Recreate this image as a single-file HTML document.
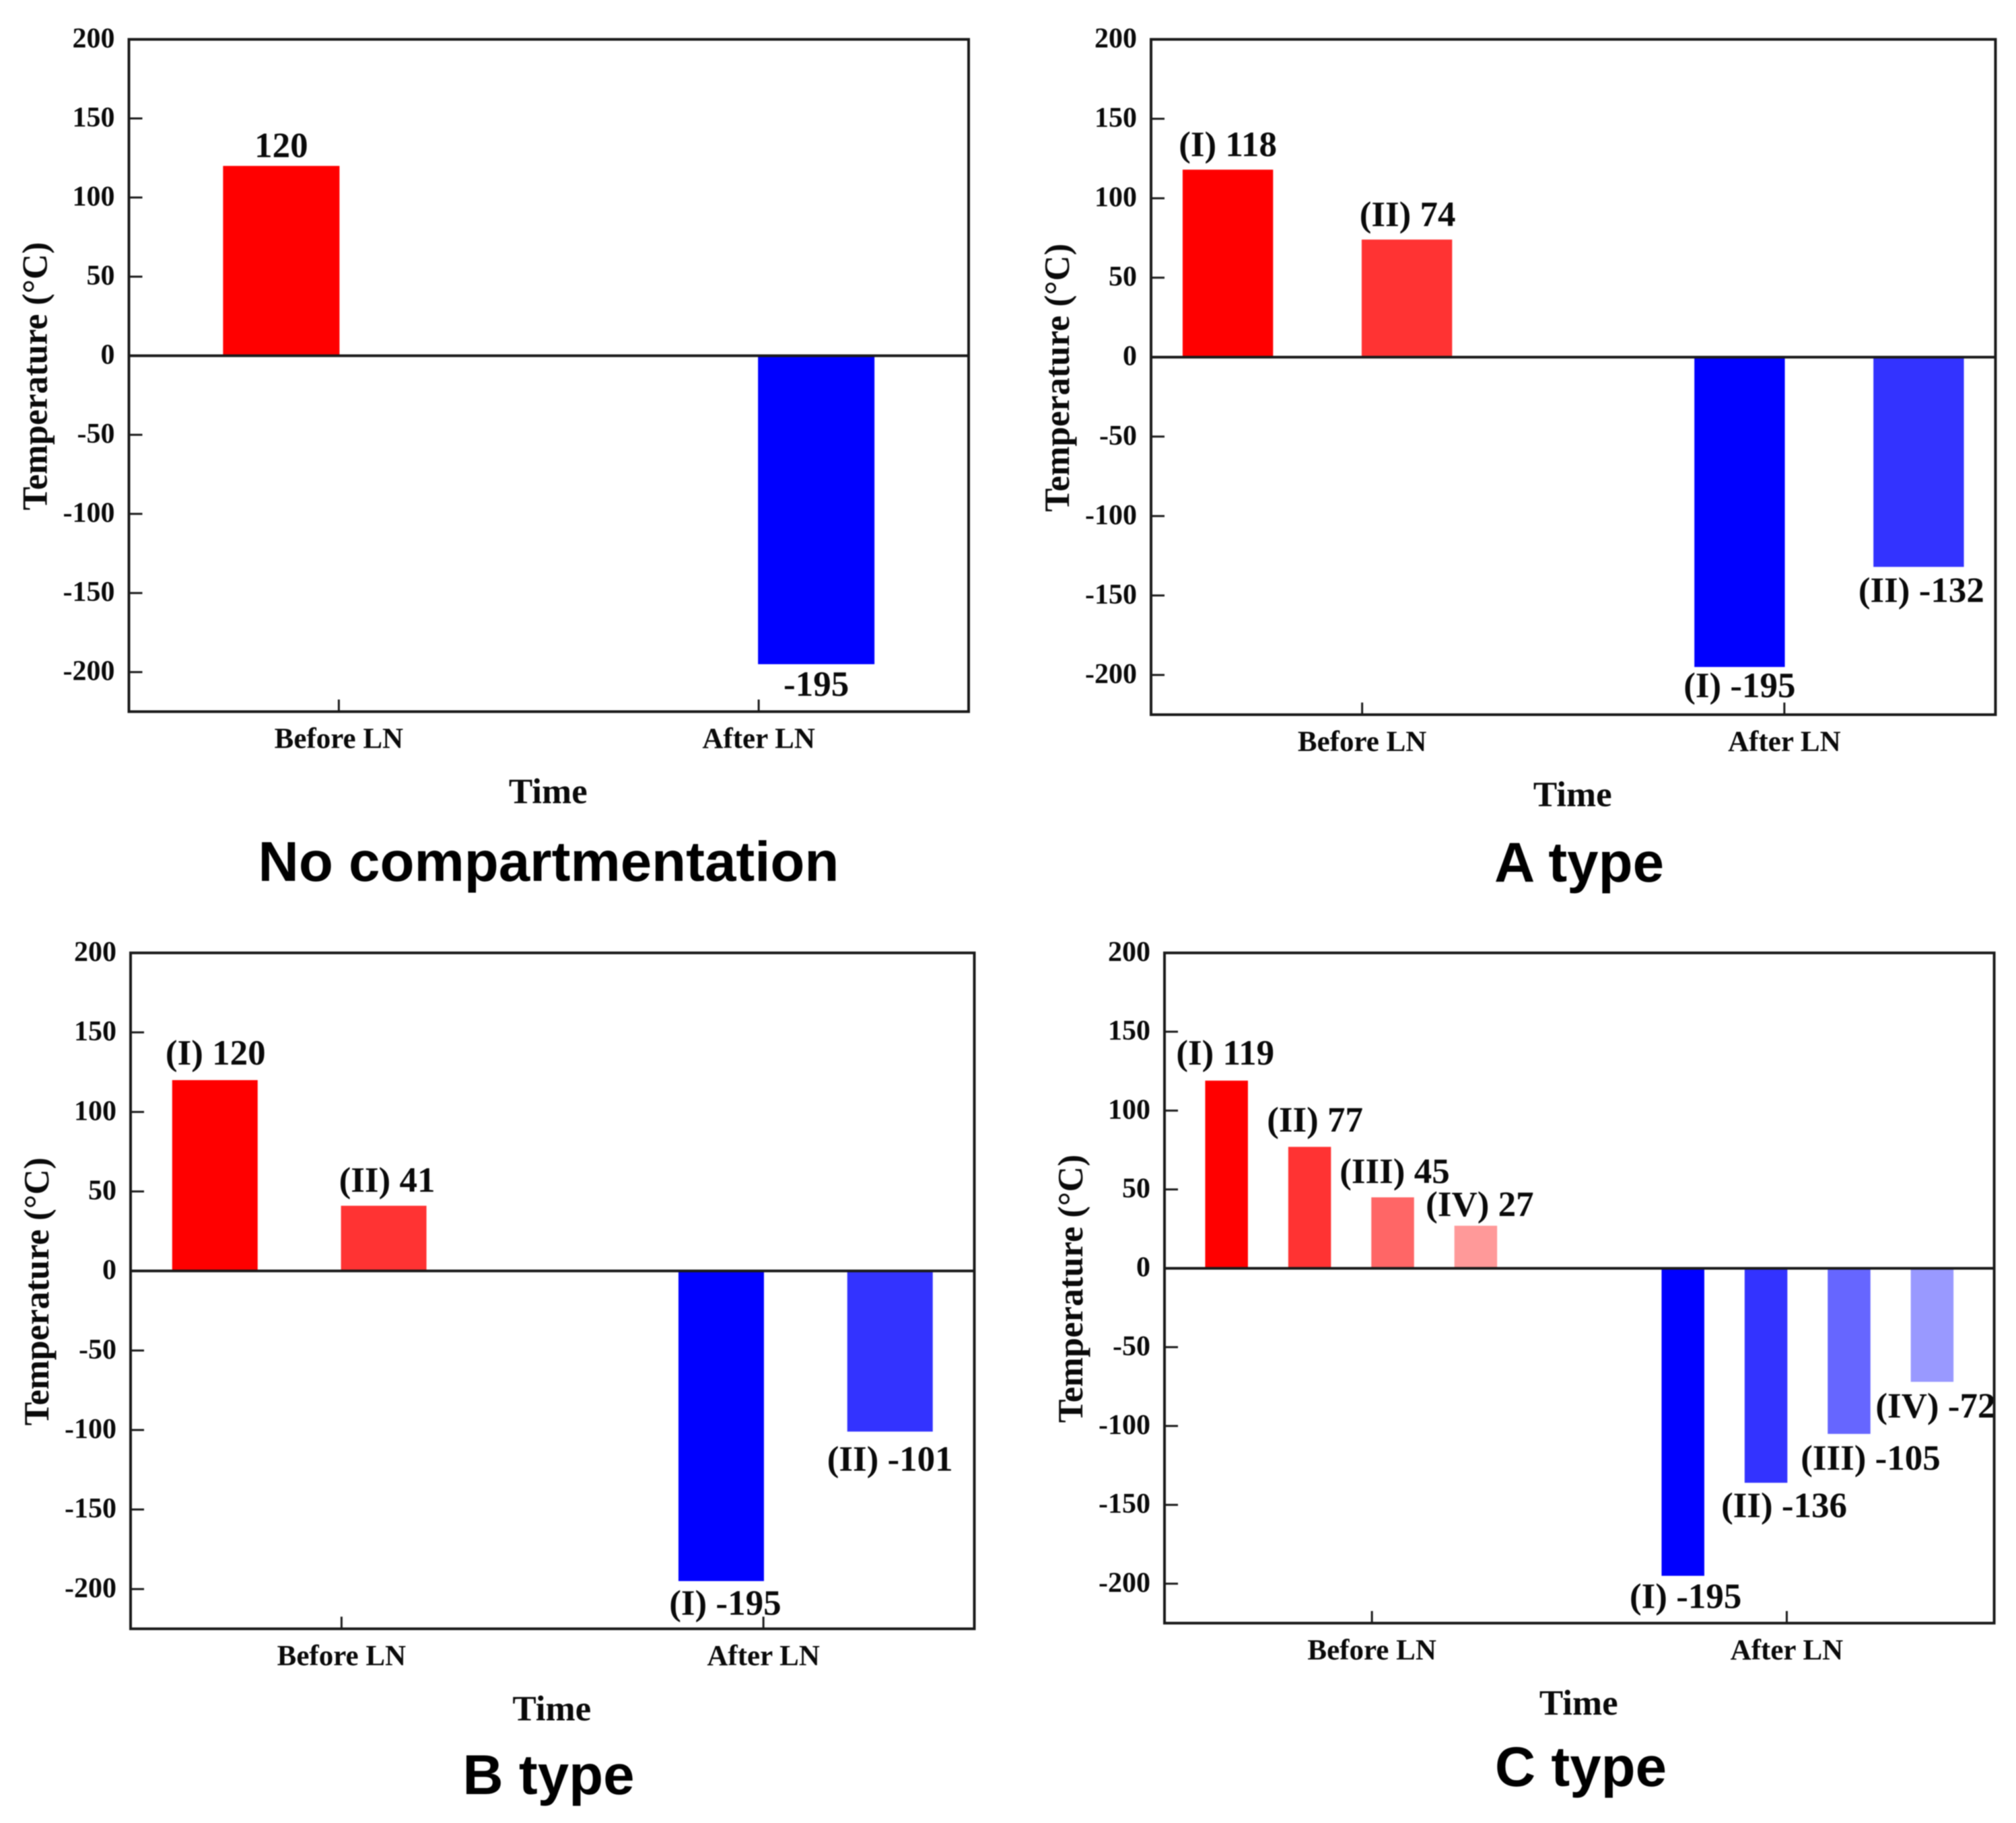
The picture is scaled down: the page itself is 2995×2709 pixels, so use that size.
<!DOCTYPE html>
<html lang="en">
<head>
<meta charset="utf-8">
<title>Temperature before and after LN by compartmentation type</title>
<style>
  html, body { margin: 0; padding: 0; background: #fff; }
  svg { display: block; filter: blur(0.7px); }
  text { font-family: "Liberation Serif", serif; font-weight: bold; fill: #0a0a0a; }
  .panel-title { font-family: "Liberation Sans", sans-serif; fill: #000; }
</style>
</head>
<body>
<svg id="figure" xmlns="http://www.w3.org/2000/svg" width="2995" height="2709" viewBox="0 0 2995 2709">
  <rect x="0" y="0" width="2995" height="2709" fill="#ffffff"></rect>
</svg>
<script>
// ---- Data ----
const categories = ['Before LN', 'After LN'];
const yTickValues = [200, 150, 100, 50, 0, -50, -100, -150, -200];
const yDomain = [200, -225];

const noCompValues = [120, -195];
const noCompPrefixes = ['', ''];
const noCompCategory = [0, 1];

const aTypeValues = [118, 74, -195, -132];
const aTypePrefixes = ['(I) ', '(II) ', '(I) ', '(II) '];
const aTypeCategory = [0, 0, 1, 1];

const bTypeValues = [120, 41, -195, -101];
const bTypePrefixes = ['(I) ', '(II) ', '(I) ', '(II) '];
const bTypeCategory = [0, 0, 1, 1];

const cTypeValues = [119, 77, 45, 27, -195, -136, -105, -72];
const cTypePrefixes = ['(I) ', '(II) ', '(III) ', '(IV) ', '(I) ', '(II) ', '(III) ', '(IV) '];
const cTypeCategory = [0, 0, 0, 0, 1, 1, 1, 1];

// ---- Layout (not data) ----
const redShades = ['#ff0000', '#ff3333', '#ff6666', '#ff9999'];
const blueShades = ['#0000ff', '#3333ff', '#6666ff', '#9999ff'];

const panels = [
  { id: 'no-compartmentation', title: 'No compartmentation', titleX: 815, titleY: 1309,
    left: 191.5, right: 1439, top: 58.5, bottom: 1057.5,
    values: noCompValues, prefixes: noCompPrefixes, cats: noCompCategory,
    slots: [-0.5, 0.5], unit: 171, barWidth: 173,
    shadeIdx: [0, 0], nudgeX: [0, 0], nudgeY: [-13, 47] },
  { id: 'a-type', title: 'A type', titleX: 2346, titleY: 1310,
    left: 1710, right: 2964.5, top: 58.5, bottom: 1062,
    values: aTypeValues, prefixes: aTypePrefixes, cats: aTypeCategory,
    slots: [-1.5, 0.5, -0.5, 1.5], unit: 133, barWidth: 134.4,
    shadeIdx: [0, 1, 0, 1], nudgeX: [0, 1, 0, 4], nudgeY: [-20, -20, 45, 52] },
  { id: 'b-type', title: 'B type', titleX: 815, titleY: 2666,
    left: 194, right: 1447.5, top: 1416, bottom: 2420.4,
    values: bTypeValues, prefixes: bTypePrefixes, cats: bTypeCategory,
    slots: [-1.5, 0.5, -0.5, 1.5], unit: 125.4, barWidth: 127,
    shadeIdx: [0, 1, 0, 1], nudgeX: [1, 5, 6, 0], nudgeY: [-23, -20.7, 50, 58] },
  { id: 'c-type', title: 'C type', titleX: 2348.5, titleY: 2654,
    left: 1730, right: 2962.6, top: 1416, bottom: 2412,
    values: cTypeValues, prefixes: cTypePrefixes, cats: cTypeCategory,
    slots: [-3.5, -1.5, 0.5, 2.5, -2.5, -0.5, 1.5, 3.5], unit: 61.7, barWidth: 63.5,
    shadeIdx: [0, 1, 2, 3, 0, 1, 2, 3], nudgeX: [-2, 8, 3, 6, 4, 27, 32, 5],
    nudgeY: [-24, -22.6, -21, -14.5, 48, 51, 53, 53] }
];

const SVG_NS = 'http://www.w3.org/2000/svg';
const AXIS_COLOR = '#1a1a1a';
const figure = document.getElementById('figure');

function make(parent, tag, attrs, content) {
  const node = document.createElementNS(SVG_NS, tag);
  Object.keys(attrs).forEach(function (k) { node.setAttribute(k, attrs[k]); });
  if (content !== undefined) node.textContent = content;
  parent.appendChild(node);
  return node;
}

function drawPanel(p) {
  const yScale = function (v) {
    return p.top + (yDomain[0] - v) / (yDomain[0] - yDomain[1]) * (p.bottom - p.top);
  };
  const xScale = function (catIdx) {
    return p.left + (p.right - p.left) * (catIdx * 2 + 1) / (categories.length * 2);
  };
  const midX = (p.left + p.right) / 2;
  const midY = (p.top + p.bottom) / 2;

  const group = make(figure, 'g', {});
  
  

  // Bars
  p.values.forEach(function (v, i) {
    const cx = xScale(p.cats[i]) + p.slots[i] * p.unit;
    const y0 = yScale(0);
    const yv = yScale(v);
    const shades = v >= 0 ? redShades : blueShades;
    const bar = make(group, 'rect', {
      x: cx - p.barWidth / 2,
      y: Math.min(y0, yv),
      width: p.barWidth,
      height: Math.abs(yv - y0),
      fill: shades[p.shadeIdx[i]]
    });
    
    

    const label = make(group, 'text', {
      x: cx + p.nudgeX[i],
      y: yv + p.nudgeY[i],
      'text-anchor': 'middle',
      'font-size': 53
    }, p.prefixes[i] + v);
    
    
  });

  // Frame
  const frame = make(group, 'rect', {
    x: p.left, y: p.top, width: p.right - p.left, height: p.bottom - p.top,
    fill: 'none', stroke: AXIS_COLOR, 'stroke-width': 4
  });
  
  

  // Zero line
  const zero = make(group, 'line', {
    x1: p.left, x2: p.right, y1: yScale(0), y2: yScale(0),
    stroke: AXIS_COLOR, 'stroke-width': 4
  });
  
  

  // Y ticks
  yTickValues.forEach(function (t) {
    const tick = make(group, 'line', {
      x1: p.left, x2: p.left + 20, y1: yScale(t), y2: yScale(t),
      stroke: AXIS_COLOR, 'stroke-width': 3
    });
    
    

    const tickLabel = make(group, 'text', {
      x: p.left - 21, y: yScale(t) + 12, 'text-anchor': 'end', 'font-size': 42
    }, String(t));
    
    
  });

  // X ticks
  categories.forEach(function (c, i) {
    const tick = make(group, 'line', {
      x1: xScale(i), x2: xScale(i), y1: p.bottom, y2: p.bottom - 18,
      stroke: AXIS_COLOR, 'stroke-width': 3
    });
    
    

    const tickLabel = make(group, 'text', {
      x: xScale(i), y: p.bottom + 54, 'text-anchor': 'middle', 'font-size': 43
    }, c);
    
    
  });

  // Axis titles
  const xTitle = make(group, 'text', {
    x: midX - 1, y: p.bottom + 136, 'text-anchor': 'middle', 'font-size': 53
  }, 'Time');
  
  

  const yTitleX = p.left - 122;
  const yTitle = make(group, 'text', {
    x: yTitleX, y: midY + 1, 'text-anchor': 'middle', 'font-size': 52.5,
    transform: 'rotate(-90 ' + yTitleX + ' ' + (midY + 1) + ')'
  }, 'Temperature (°C)');
  
  

  // Panel title
  const title = make(group, 'text', {
    class: 'panel-title', x: p.titleX, y: p.titleY, 'text-anchor': 'middle', 'font-size': 83.5
  }, p.title);
  
  
}

panels.forEach(drawPanel);
</script>
</body>
</html>
